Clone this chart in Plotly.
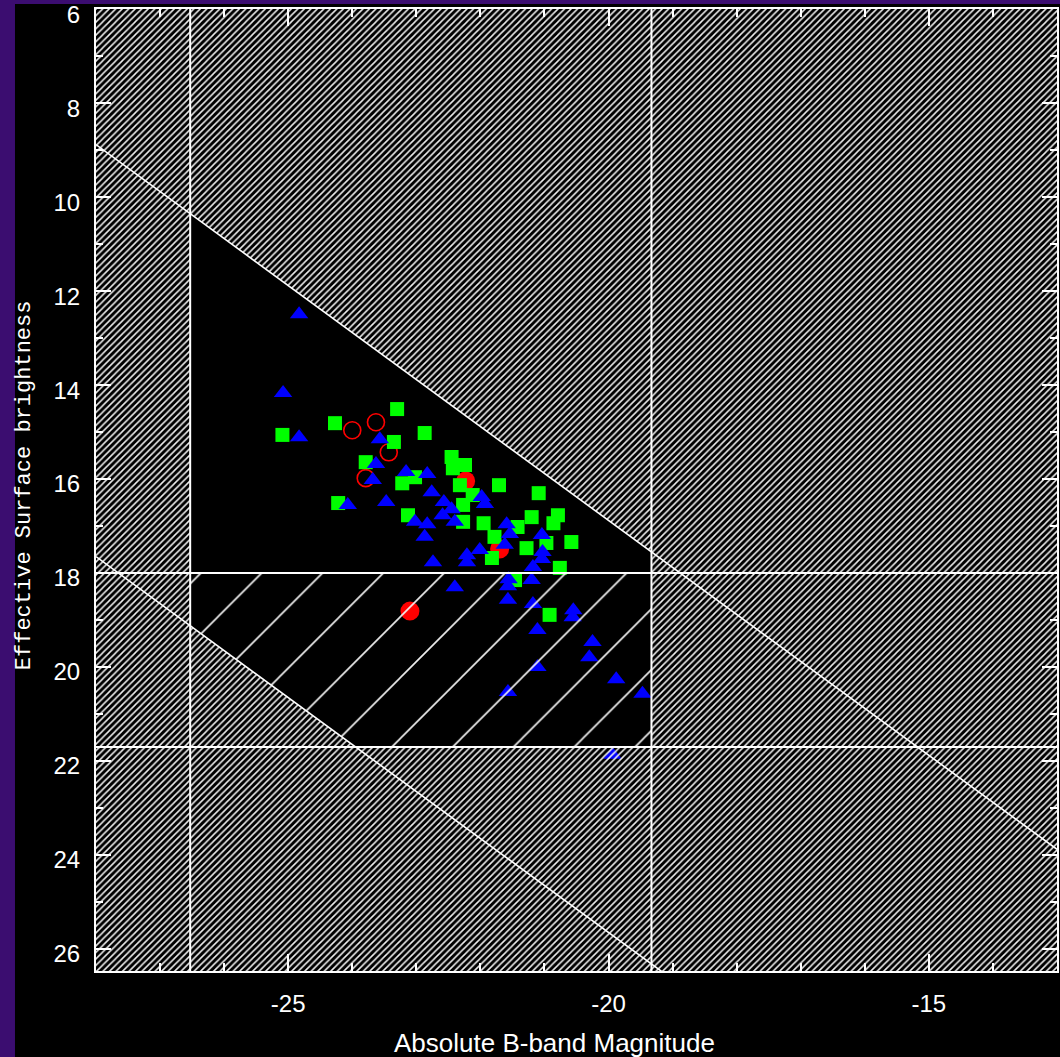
import plotly.graph_objects as go

# Galaxy sample: absolute B magnitude vs effective surface brightness
tri_m = [-24.83, -25.08, -24.83, -23.57, -23.63, -23.68, -24.07, -23.47, -23.16, -22.83,
         -22.76, -22.57, -22.45, -22.59, -23.02, -22.83, -22.87, -22.40, -22.74, -22.21,
         -22.21, -22.01, -21.98, -21.93, -21.59, -21.54, -21.62, -21.04, -21.03, -21.04,
         -21.18, -21.56, -21.57, -21.20, -22.40, -21.57, -21.18, -20.55, -20.56, -21.11,
         -20.25, -20.30, -21.11, -19.88, -21.57, -19.47, -19.94]
tri_sb = [12.49, 14.17, 15.11, 15.15, 15.68, 16.02, 16.55, 16.49, 15.85, 15.89,
          16.28, 16.49, 16.64, 16.77, 16.91, 16.96, 17.23, 16.91, 17.77, 17.62,
          17.77, 17.51, 16.38, 16.53, 16.96, 17.17, 17.40, 17.19, 17.55, 17.70,
          17.87, 18.13, 18.28, 18.15, 18.30, 18.57, 18.66, 18.79, 18.94, 19.21,
          19.47, 19.79, 20.00, 20.26, 20.53, 20.57, 21.87]

sq_m = [-25.09, -24.27, -23.30, -22.87, -23.35, -23.79, -24.22, -23.22, -23.02, -23.13,
        -22.45, -22.43, -22.24, -22.32, -22.27, -22.12, -21.71, -22.27, -21.95, -21.78,
        -21.82, -21.09, -21.42, -21.20, -20.79, -20.86, -20.97, -21.28, -20.58, -20.76,
        -21.46, -20.92]
sq_sb = [15.06, 14.81, 14.51, 15.02, 15.21, 15.64, 16.51, 16.09, 15.96, 16.77,
         15.53, 15.77, 15.70, 16.13, 16.55, 16.34, 16.13, 16.91, 16.94, 17.23,
         17.68, 16.30, 17.02, 16.81, 16.77, 16.94, 17.36, 17.47, 17.34, 17.89,
         18.15, 18.89]

ring_m = [-24.00, -23.63, -23.43, -23.79]
ring_sb = [14.96, 14.79, 15.43, 15.98]

dot_m = [-23.10, -22.23, -21.70]
dot_sb = [18.81, 16.04, 17.49]

# Axis tick labels
x_tick_vals = [-25, -20, -15]
x_tick_text = ["-25", "-20", "-15"]
y_tick_vals = [6, 8, 10, 12, 14, 16, 18, 20, 22, 24, 26]
y_tick_text = ["6", "8", "10", "12", "14", "16", "18", "20", "22", "24", "26"]

# Selection limits of the survey
M_BRIGHT = -26.53      # bright magnitude cut
M_FAINT = -19.33       # faint magnitude cut
SB_CUT = 18.0          # surface-brightness completeness
SB_FAINT = 21.7        # faint surface-brightness limit
RAD_HI = 36.88         # SB = M + RAD_HI  (upper size limit)
RAD_LO = 45.65         # SB = M + RAD_LO  (lower size limit)

X_RANGE = [-28.0, -13.0]
Y_RANGE = [26.47, 5.995]

x0, x1 = X_RANGE
ytop, ybot = Y_RANGE[1], Y_RANGE[0]

# corners of the unhatched window
p1 = (M_BRIGHT, M_BRIGHT + RAD_HI)
p2 = (M_FAINT, M_FAINT + RAD_HI)
p3 = (M_FAINT, SB_FAINT)
p4 = (SB_FAINT - RAD_LO, SB_FAINT)
p5 = (M_BRIGHT, M_BRIGHT + RAD_LO)

# dense hatch: full frame with the window cut out through a slit
dense_x = [x0, x1, x1, x0, x0, p1[0], p5[0], p4[0], p3[0], p2[0], p1[0], x0, x0]
dense_y = [ytop, ytop, ybot, ybot, p1[1], p1[1], p5[1], p4[1], p3[1], p2[1], p1[1], p1[1], ytop]

# sparse hatch: strip between the two surface-brightness limits
sparse_x = [M_BRIGHT, M_FAINT, p3[0], p4[0], p5[0], M_BRIGHT]
sparse_y = [SB_CUT, SB_CUT, p3[1], p4[1], p5[1], SB_CUT]

fig = go.Figure()

fig.add_trace(go.Scatter(x=dot_m, y=dot_sb, mode="markers",
                         marker=dict(symbol="circle", size=19, color="#ff0000", line=dict(width=0))))
fig.add_trace(go.Scatter(x=ring_m, y=ring_sb, mode="markers",
                         marker=dict(symbol="circle-open", size=17, color="#ff0000", line=dict(width=1.6))))
fig.add_trace(go.Scatter(x=sq_m, y=sq_sb, mode="markers",
                         marker=dict(symbol="square", size=14, color="#00ff00", line=dict(width=0))))
fig.add_trace(go.Scatter(x=tri_m, y=tri_sb, mode="markers",
                         marker=dict(symbol="triangle-up", size=16, color="#0000ff", line=dict(width=0))))

fig.add_trace(go.Scatter(x=dense_x, y=dense_y, mode="none", fill="toself",
                         fillcolor="rgba(0,0,0,0)",
                         fillpattern=dict(shape="/", size=4.6, solidity=0.33, fgcolor="#f0f0f0",
                                          bgcolor="rgba(0,0,0,0)", fillmode="replace"),
                         hoverinfo="skip"))
fig.add_trace(go.Scatter(x=sparse_x, y=sparse_y, mode="none", fill="toself",
                         fillcolor="rgba(0,0,0,0)",
                         fillpattern=dict(shape="/", size=43, solidity=0.038, fgcolor="#f0f0f0",
                                          bgcolor="rgba(0,0,0,0)", fillmode="replace"),
                         hoverinfo="skip"))

# limit lines
line_style = dict(color="white", width=2)
fig.add_trace(go.Scatter(x=[M_BRIGHT, M_BRIGHT], y=[ytop, ybot], mode="lines", line=line_style, hoverinfo="skip"))
fig.add_trace(go.Scatter(x=[M_FAINT, M_FAINT], y=[ytop, ybot], mode="lines", line=line_style, hoverinfo="skip"))
fig.add_trace(go.Scatter(x=[x0, x1], y=[SB_CUT, SB_CUT], mode="lines", line=line_style, hoverinfo="skip"))
fig.add_trace(go.Scatter(x=[x0, x1], y=[SB_FAINT, SB_FAINT], mode="lines", line=line_style, hoverinfo="skip"))
fig.add_trace(go.Scatter(x=[x0, x1], y=[x0 + RAD_HI, x1 + RAD_HI], mode="lines",
                         line=dict(color="white", width=1.6), hoverinfo="skip"))
fig.add_trace(go.Scatter(x=[x0, x1], y=[x0 + RAD_LO, x1 + RAD_LO], mode="lines",
                         line=dict(color="white", width=1.6), hoverinfo="skip"))

tick_font = dict(family="Liberation Sans, Arial, sans-serif", size=24, color="white")

fig.update_layout(
    width=1060, height=1057,
    margin=dict(l=96, r=3, t=9, b=86, autoexpand=False),
    paper_bgcolor="#3b0d70",
    plot_bgcolor="black",
    showlegend=False,
    shapes=[dict(type="rect", xref="paper", yref="paper",
                 x0=-0.0843, x1=1.02, y0=-0.1, y1=1.0052,
                 fillcolor="black", line=dict(width=0), layer="below")],
    xaxis=dict(range=X_RANGE, showgrid=False, zeroline=False, automargin=False,
               showline=True, linecolor="white", linewidth=2, mirror="ticks",
               ticks="inside", ticklen=17, tickwidth=1.5, tickcolor="white",
               tickmode="array", tickvals=x_tick_vals, ticktext=x_tick_text,
               tickfont=tick_font, ticklabelstandoff=10,
               minor=dict(ticks="inside", ticklen=8, tickwidth=1.5, tickcolor="white", dtick=1, tick0=-25,
                          showgrid=False)),
    yaxis=dict(range=Y_RANGE, showgrid=False, zeroline=False, automargin=False,
               showline=True, linecolor="white", linewidth=2, mirror="ticks",
               ticks="inside", ticklen=15, tickwidth=1.5, tickcolor="white",
               tickmode="array", tickvals=y_tick_vals, ticktext=y_tick_text,
               tickfont=tick_font, ticklabelstandoff=9, ticklabeloverflow="allow",
               ticklabelshift=-5,
               minor=dict(ticks="inside", ticklen=7, tickwidth=1.5, tickcolor="white", dtick=1, tick0=6,
                          showgrid=False)),
    annotations=[
        dict(text="Absolute B-band Magnitude", xref="paper", yref="paper",
             x=0.4776, y=-0.0748, xanchor="center", yanchor="middle", showarrow=False,
             font=dict(family="Liberation Sans, Arial, sans-serif", size=26, color="white")),
        dict(text="Effective Surface brightness", xref="paper", yref="paper",
             x=-0.0749, y=0.505, xanchor="center", yanchor="middle", showarrow=False, textangle=-90,
             font=dict(family="Liberation Mono, monospace", size=22, color="white")),
    ],
)

fig.write_html("out.html")
